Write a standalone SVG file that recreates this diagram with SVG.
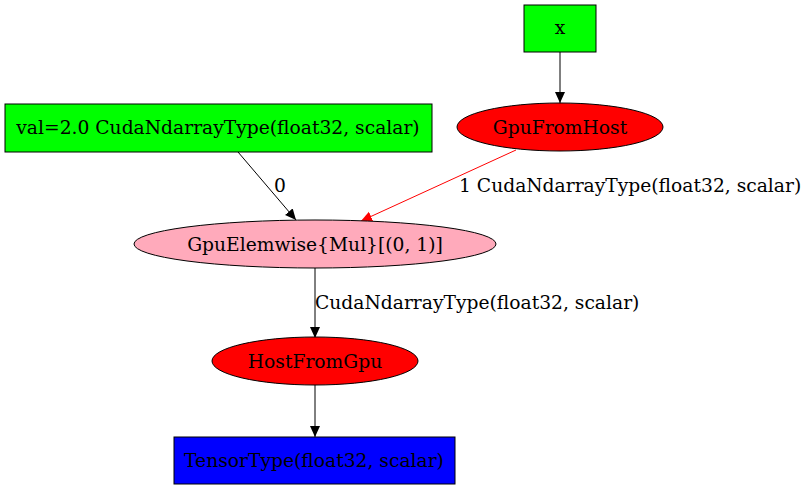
<svg xmlns="http://www.w3.org/2000/svg" width="809" height="491" viewBox="0 0 809 491">
<style>
text{font-family:"DejaVu Serif",serif;font-size:18.7px;fill:#000}
.n{text-anchor:middle}
.s{stroke:#000;stroke-width:1}
.e{fill:none;stroke:#000;stroke-width:1}
.r{stroke:#ff0000}
</style>
<defs>
<marker id="a" markerWidth="12" markerHeight="12" refX="11" refY="5" orient="auto" markerUnits="userSpaceOnUse"><path d="M0,0 L11,5 L0,10 Z" fill="#000"/></marker>
<marker id="ar" markerWidth="12" markerHeight="12" refX="11" refY="5" orient="auto" markerUnits="userSpaceOnUse"><path d="M0,0 L11,5 L0,10 Z" fill="#ff0000"/></marker>
</defs>
<rect width="809" height="491" fill="#fff"/>
<g id="edges">
<line class="e" x1="560" y1="52" x2="560" y2="103" marker-end="url(#a)"/>
<line class="e" x1="238" y1="152" x2="296" y2="220" marker-end="url(#a)"/>
<text x="274" y="192">0</text>
<line class="e r" x1="516" y1="150" x2="361" y2="221" marker-end="url(#ar)"/>
<text x="459" y="192">1 CudaNdarrayType(float32, scalar)</text>
<line class="e" x1="315" y1="268" x2="315" y2="338" marker-end="url(#a)"/>
<text x="315" y="309">CudaNdarrayType(float32, scalar)</text>
<line class="e" x1="315" y1="385" x2="315" y2="437" marker-end="url(#a)"/>
</g>
<g id="x"><rect class="s" x="524" y="5" width="72" height="47" fill="#00ff00"/><text class="n" x="560" y="34">x</text></g>
<g id="gpufromhost"><ellipse class="s" cx="560" cy="127" rx="103" ry="24" fill="#ff0000"/><text class="n" x="560" y="134">GpuFromHost</text></g>
<g id="val"><rect class="s" x="5" y="104" width="427" height="48" fill="#00ff00"/><text class="n" x="218" y="134">val=2.0 CudaNdarrayType(float32, scalar)</text></g>
<g id="elemwise"><ellipse class="s" cx="315" cy="244" rx="181" ry="24" fill="#ffaabb"/><text class="n" x="315" y="251">GpuElemwise{Mul}[(0, 1)]</text></g>
<g id="hostfromgpu"><ellipse class="s" cx="315" cy="361" rx="103" ry="24" fill="#ff0000"/><text class="n" x="315" y="368">HostFromGpu</text></g>
<g id="tensor"><rect class="s" x="174" y="437" width="281" height="47" fill="#0000ff"/><text class="n" x="314" y="467">TensorType(float32, scalar)</text></g>
</svg>
